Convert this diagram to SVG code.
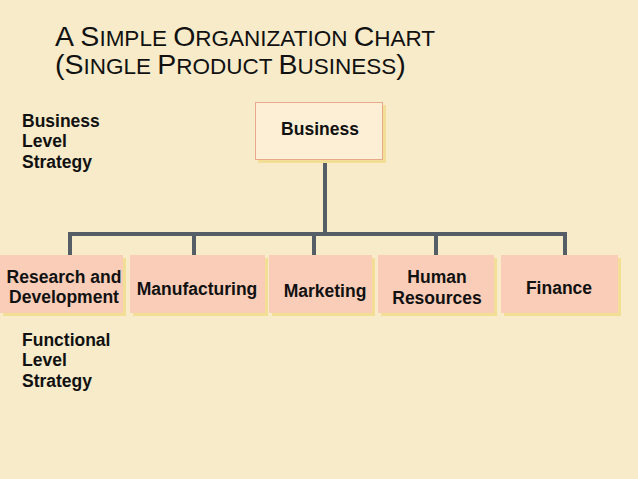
<svg xmlns="http://www.w3.org/2000/svg" width="638" height="479" viewBox="0 0 638 479">
<style>
text{font-family:"Liberation Sans",Arial,sans-serif;fill:#111;}
.lbl{font-weight:bold;font-size:17.5px;}
.c{text-anchor:middle;}
.box{fill:#f9cdb8;}
.shd{fill:#f3de95;}
.conn{stroke:#555d66;stroke-width:4;fill:none;stroke-linecap:square;}
.t1{font-size:28.5px;}
.t2{font-size:22.5px;}
</style>
<rect x="0" y="0" width="638" height="479" fill="#f7ebca"/>
<g id="title">
<text x="55" y="46"><tspan class="t1">A S</tspan><tspan class="t2">IMPLE </tspan><tspan class="t1">O</tspan><tspan class="t2">RGANIZATION </tspan><tspan class="t1">C</tspan><tspan class="t2">HART</tspan></text>
<text x="55" y="74"><tspan class="t1">(S</tspan><tspan class="t2">INGLE </tspan><tspan class="t1">P</tspan><tspan class="t2">RODUCT </tspan><tspan class="t1">B</tspan><tspan class="t2">USINESS</tspan><tspan class="t1">)</tspan></text>
</g>
<g id="business-level-label">
<text class="lbl" x="22" y="127">Business</text>
<text class="lbl" x="22" y="147">Level</text>
<text class="lbl" x="22" y="168">Strategy</text>
</g>
<g id="functional-level-label">
<text class="lbl" x="22" y="346">Functional</text>
<text class="lbl" x="22" y="366">Level</text>
<text class="lbl" x="22" y="387">Strategy</text>
</g>
<g id="connectors">
<line class="conn" x1="325" y1="163" x2="325" y2="234"/>
<line class="conn" x1="70" y1="234" x2="565" y2="234"/>
<line class="conn" x1="70" y1="234" x2="70" y2="254"/>
<line class="conn" x1="194" y1="234" x2="194" y2="254"/>
<line class="conn" x1="314" y1="234" x2="314" y2="254"/>
<line class="conn" x1="436" y1="234" x2="436" y2="254"/>
<line class="conn" x1="565" y1="234" x2="565" y2="254"/>
</g>
<g id="business">
<rect class="shd" x="258" y="105" width="128" height="58"/>
<rect x="255.5" y="102.5" width="127" height="57" fill="#fcefd6" stroke="#e7a98b" stroke-width="1"/>
<text class="lbl c" x="320" y="135">Business</text>
</g>
<g id="research">
<rect class="shd" x="3" y="258" width="123" height="58"/>
<rect class="box" x="0" y="255" width="123" height="58"/>
<text class="lbl c" x="64" y="283">Research and</text>
<text class="lbl c" x="64" y="303">Development</text>
</g>
<g id="manufacturing">
<rect class="shd" x="133" y="258" width="135" height="58"/>
<rect class="box" x="130" y="255" width="135" height="58"/>
<text class="lbl c" x="197" y="295">Manufacturing</text>
</g>
<g id="marketing">
<rect class="shd" x="272" y="258" width="103" height="58"/>
<rect class="box" x="269" y="255" width="103" height="58"/>
<text class="lbl c" x="325" y="297">Marketing</text>
</g>
<g id="human-resources">
<rect class="shd" x="381" y="258" width="116" height="58"/>
<rect class="box" x="378" y="255" width="116" height="58"/>
<text class="lbl c" x="437" y="283">Human</text>
<text class="lbl c" x="437" y="304">Resources</text>
</g>
<g id="finance">
<rect class="shd" x="504" y="258" width="117" height="58"/>
<rect class="box" x="501" y="255" width="117" height="58"/>
<text class="lbl c" x="559" y="294">Finance</text>
</g>
</svg>
